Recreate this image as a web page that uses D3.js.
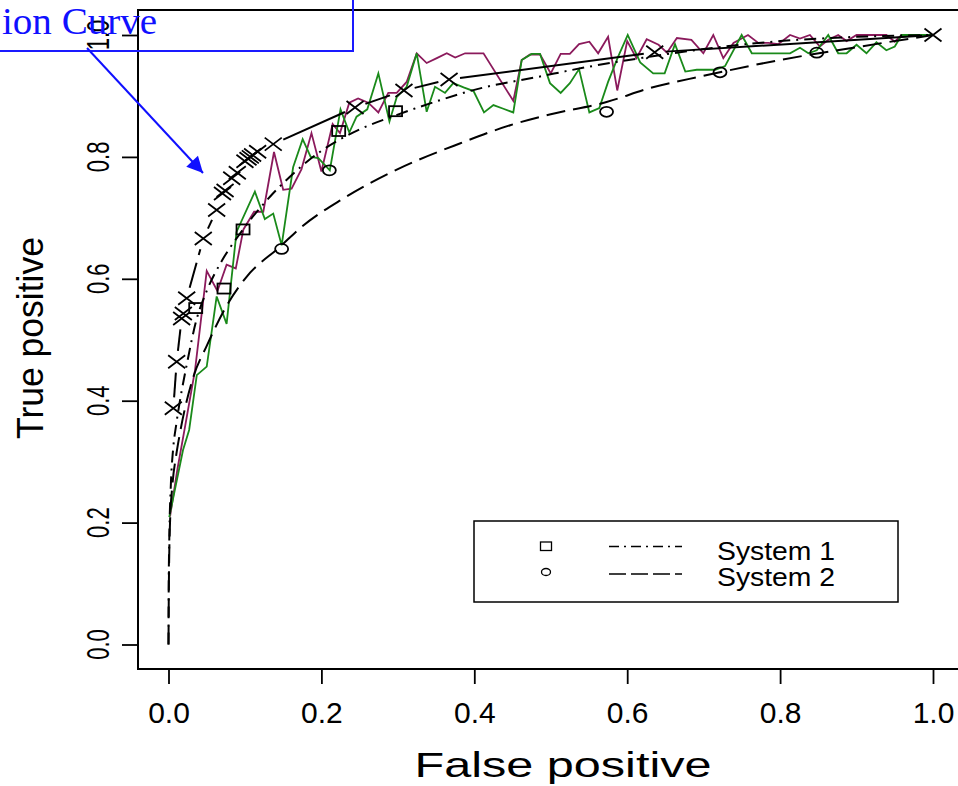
<!DOCTYPE html>
<html>
<head>
<meta charset="utf-8">
<script src="https://d3js.org/d3.v7.min.js"></script>
<style>
  body { margin: 0; background: #fff; }
  svg { display: block; }
  text { font-family: "Liberation Sans", Arial, sans-serif; }
</style>
</head>
<body>
<div id="roc_plot"></div>
<script>
// tick values
var xTicks = [0.0, 0.2, 0.4, 0.6, 0.8, 1.0];
var yTicks = [0.0, 0.2, 0.4, 0.6, 0.8, 1.0];

// fitted curve, system 1 (dot-dash)
var sys1Curve = [[0,0],[0.0003,0.1],[0.001,0.17],[0.003,0.26],[0.006,0.32],[0.01,0.36],[0.015,0.4],
  [0.024,0.46],[0.036,0.53],[0.05,0.58],[0.07,0.63],[0.094,0.675],[0.133,0.735],[0.15,0.757],
  [0.2,0.81],[0.25,0.845],[0.297,0.868],[0.355,0.893],[0.4,0.91],[0.486,0.932],[0.55,0.948],
  [0.617,0.962],[0.7,0.977],[0.8,0.99],[0.9,0.997],[1,1]];
// fitted curve, system 2 (long dash)
var sys2Curve = [[0,0],[0.0005,0.1],[0.002,0.2],[0.005,0.26],[0.01,0.31],[0.015,0.347],[0.0325,0.439],
  [0.05,0.49],[0.078,0.56],[0.1,0.6],[0.148,0.655],[0.172,0.683],[0.229,0.732],[0.3,0.78],
  [0.381,0.822],[0.447,0.852],[0.5,0.87],[0.573,0.89],[0.63,0.913],[0.7,0.933],[0.8,0.959],
  [0.9,0.98],[1,1]];

// operating points
var sys1Points = [[0.0356,0.552],[0.0726,0.584],[0.0975,0.681],[0.2226,0.8425],[0.297,0.875]];
var sys2Points = [[0.148,0.649],[0.2104,0.778],[0.573,0.874],[0.7214,0.9388],[0.848,0.971]];

// points marked with crosses
var crossPoints = [[0.0063,0.3875],[0.0107,0.464],[0.0172,0.535],[0.0194,0.543],[0.0238,0.568],
  [0.0455,0.666],[0.063,0.713],[0.0706,0.74],[0.074,0.745],[0.0827,0.765],[0.09,0.774],
  [0.1,0.793],[0.104,0.797],[0.107,0.8],[0.11,0.803],[0.1166,0.8085],[0.137,0.821],
  [0.244,0.881],[0.308,0.909],[0.367,0.927],[0.636,0.9716],[1,1]];
// segments starting at these fpr values are drawn solid
var crossSolidFrom = [0.137, 0.367, 0.636];

// empirical curves
var maroonCurve = [[0.002,0.21],[0.012,0.29],[0.022,0.36],[0.0347,0.45],[0.05,0.613],[0.064,0.58],
  [0.076,0.623],[0.088,0.617],[0.098,0.681],[0.112,0.71],[0.124,0.71],[0.138,0.808],[0.15,0.746],
  [0.161,0.748],[0.174,0.78],[0.187,0.839],[0.2,0.776],[0.2147,0.854],[0.2243,0.839],[0.2365,0.889],
  [0.248,0.896],[0.2613,0.889],[0.2745,0.873],[0.2875,0.905],[0.2985,0.905],[0.3115,0.923],
  [0.3247,0.97],[0.3377,0.954],[0.351,0.962],[0.364,0.97],[0.375,0.963],[0.388,0.97],[0.4,0.97],
  [0.412,0.97],[0.451,0.892],[0.462,0.959],[0.473,0.968],[0.486,0.968],[0.5,0.937],[0.513,0.969],
  [0.525,0.969],[0.537,0.985],[0.5505,0.989],[0.562,0.97],[0.575,0.997],[0.587,0.909],[0.6,0.99],
  [0.612,0.962],[0.6255,0.993],[0.641,0.984],[0.652,0.971],[0.665,0.995],[0.684,0.992],[0.6996,0.97],
  [0.7126,1.0],[0.7257,0.962],[0.739,0.987],[0.758,1.0],[0.7715,0.987],[0.7846,0.987],[0.7977,0.985],
  [0.813,1.0],[0.826,0.994],[0.839,1.0],[0.852,0.981],[0.863,0.992],[0.876,1.0],[0.887,0.99],
  [0.9,1.0],[0.939,1.0],[0.95,0.989],[0.959,1.0],[1,1]];
var greenCurve = [[0.001,0.209],[0.019,0.319],[0.027,0.352],[0.037,0.442],[0.05,0.456],[0.063,0.571],
  [0.076,0.526],[0.089,0.677],[0.113,0.743],[0.126,0.698],[0.137,0.707],[0.148,0.655],[0.163,0.783],
  [0.1755,0.829],[0.186,0.8],[0.196,0.798],[0.211,0.778],[0.225,0.878],[0.2365,0.84],[0.246,0.866],
  [0.26,0.878],[0.2745,0.937],[0.289,0.858],[0.2985,0.898],[0.3115,0.915],[0.3247,0.97],
  [0.3377,0.874],[0.3486,0.915],[0.3617,0.905],[0.3725,0.921],[0.386,0.914],[0.399,0.908],
  [0.4127,0.873],[0.425,0.885],[0.438,0.879],[0.451,0.873],[0.462,0.959],[0.475,0.969],[0.486,0.969],
  [0.499,0.921],[0.513,0.905],[0.525,0.921],[0.537,0.944],[0.5505,0.873],[0.5635,0.88],[0.575,0.923],
  [0.588,0.964],[0.6007,1.0],[0.617,0.955],[0.634,0.937],[0.649,0.937],[0.6625,0.985],[0.676,0.94],
  [0.691,0.943],[0.715,0.943],[0.728,0.949],[0.7497,1.0],[0.763,0.97],[0.813,0.97],[0.826,0.979],
  [0.837,0.97],[0.848,0.975],[0.863,1.0],[0.876,0.97],[0.887,0.97],[0.9,0.984],[0.913,0.97],
  [0.926,0.988],[0.939,0.975],[0.95,0.981],[0.959,1.0],[0.979,1.0],[1,1]];

var legendLabels = ["System 1", "System 2"];
var titleText = "ion Curve";

var width = 958, height = 786;
var box = {left: 138, top: 10, right: 962, bottom: 669};

var svg = d3.select("#roc_plot")
  .append("svg")
    .attr("width", width)
    .attr("height", height);

var x = d3.scaleLinear().domain([0, 1]).range([168.5, 933]);
var y = d3.scaleLinear().domain([0, 1]).range([644.5, 35]);

// plot frame
svg.append("rect")
  .attr("x", box.left).attr("y", box.top)
  .attr("width", box.right - box.left).attr("height", box.bottom - box.top)
  .attr("fill", "none").attr("stroke", "black").attr("stroke-width", 2);

// x axis
var xAxis = svg.append("g")
  .attr("transform", "translate(0," + box.bottom + ")")
  .call(d3.axisBottom(x).tickValues(xTicks).tickSize(15).tickPadding(18)
    .tickFormat(d3.format(".1f")));
xAxis.select(".domain").remove();
xAxis.selectAll("line").attr("stroke-width", 1.8);
xAxis.selectAll("text")
  .style("font-size", "30px")
  .style("font-family", "Liberation Sans, Arial, sans-serif")
  .attr("fill", "black");

// y axis (labels drawn separately, rotated)
var yAxis = svg.append("g")
  .attr("transform", "translate(" + box.left + ",0)")
  .call(d3.axisLeft(y).tickValues(yTicks).tickSize(16).tickFormat(""));
yAxis.select(".domain").remove();
yAxis.selectAll("line").attr("stroke-width", 1.8);

svg.append("g").selectAll("text")
  .data(yTicks)
  .enter()
  .append("text")
    .attr("transform", function(d) { return "translate(109," + y(d) + ") scale(1.4,1) rotate(-90)"; })
    .attr("text-anchor", "middle")
    .style("font-size", "22px")
    .text(function(d) { return d3.format(".1f")(d); });

// axis titles
svg.append("text")
  .attr("x", 563).attr("y", 777)
  .attr("text-anchor", "middle")
  .attr("textLength", 297).attr("lengthAdjust", "spacingAndGlyphs")
  .style("font-size", "35px")
  .text("False positive");

svg.append("text")
  .attr("transform", "translate(43,338) rotate(-90)")
  .attr("text-anchor", "middle")
  .attr("textLength", 202).attr("lengthAdjust", "spacingAndGlyphs")
  .style("font-size", "36px")
  .text("True positive");

var line = d3.line()
  .x(function(d) { return x(d[0]); })
  .y(function(d) { return y(d[1]); });

// empirical curves
svg.append("path").datum(maroonCurve)
  .attr("fill", "none").attr("stroke", "#8b1a5c").attr("stroke-width", 1.8)
  .attr("d", line);
svg.append("path").datum(greenCurve)
  .attr("fill", "none").attr("stroke", "#1a8a1a").attr("stroke-width", 1.8)
  .attr("d", line);

// fitted curves
var smooth = d3.line()
  .x(function(d) { return x(d[0]); })
  .y(function(d) { return y(d[1]); })
  .curve(d3.curveMonotoneX);
svg.append("path").datum(sys1Curve)
  .attr("fill", "none").attr("stroke", "black").attr("stroke-width", 2)
  .attr("stroke-dasharray", "12,6,2,6")
  .attr("d", smooth);
svg.append("path").datum(sys2Curve)
  .attr("fill", "none").attr("stroke", "black").attr("stroke-width", 2)
  .attr("stroke-dasharray", "19,8")
  .attr("d", smooth);

// line through the crosses, with gaps around each point
var gap = 11;
for (var i = 0; i < crossPoints.length - 1; i++) {
  var x1 = x(crossPoints[i][0]), y1 = y(crossPoints[i][1]);
  var x2 = x(crossPoints[i+1][0]), y2 = y(crossPoints[i+1][1]);
  var len = Math.sqrt((x2-x1)*(x2-x1) + (y2-y1)*(y2-y1));
  if (len <= 2*gap) continue;
  var ux = (x2-x1)/len, uy = (y2-y1)/len;
  var solid = crossSolidFrom.indexOf(crossPoints[i][0]) >= 0;
  svg.append("line")
    .attr("x1", x1 + ux*gap).attr("y1", y1 + uy*gap)
    .attr("x2", x2 - ux*gap).attr("y2", y2 - uy*gap)
    .attr("stroke", "black").attr("stroke-width", 2)
    .attr("stroke-dasharray", solid ? null : "26,8");
}

// cross markers
svg.append("g").selectAll("path")
  .data(crossPoints)
  .enter()
  .append("path")
    .attr("transform", function(d) { return "translate(" + x(d[0]) + "," + y(d[1]) + ")"; })
    .attr("d", "M-8.5,-6.5L8.5,6.5M-8.5,6.5L8.5,-6.5")
    .attr("stroke", "black").attr("stroke-width", 1.8);

// squares and circles
svg.append("g").selectAll("rect")
  .data(sys1Points)
  .enter()
  .append("rect")
    .attr("x", function(d) { return x(d[0]) - 6.5; })
    .attr("y", function(d) { return y(d[1]) - 5; })
    .attr("width", 13).attr("height", 10)
    .attr("fill", "none").attr("stroke", "black").attr("stroke-width", 1.8);
svg.append("g").selectAll("ellipse")
  .data(sys2Points)
  .enter()
  .append("ellipse")
    .attr("cx", function(d) { return x(d[0]); })
    .attr("cy", function(d) { return y(d[1]); })
    .attr("rx", 6.5).attr("ry", 5)
    .attr("fill", "none").attr("stroke", "black").attr("stroke-width", 1.8);

// legend
var legend = svg.append("g");
legend.append("rect")
  .attr("x", 474).attr("y", 521).attr("width", 424).attr("height", 81)
  .attr("fill", "white").attr("stroke", "black").attr("stroke-width", 1.5);
legend.append("rect")
  .attr("x", 540.5).attr("y", 542).attr("width", 11).attr("height", 8.5)
  .attr("fill", "none").attr("stroke", "black").attr("stroke-width", 1.3);
legend.append("ellipse")
  .attr("cx", 546).attr("cy", 572).attr("rx", 4.5).attr("ry", 3.5)
  .attr("fill", "none").attr("stroke", "black").attr("stroke-width", 1.3);
legend.append("line")
  .attr("x1", 609).attr("x2", 682).attr("y1", 546.5).attr("y2", 546.5)
  .attr("stroke", "black").attr("stroke-width", 1.5).attr("stroke-dasharray", "10,5,2,5");
legend.append("line")
  .attr("x1", 609).attr("x2", 682).attr("y1", 574).attr("y2", 574)
  .attr("stroke", "black").attr("stroke-width", 1.5).attr("stroke-dasharray", "17,5");
legend.selectAll("text.lab")
  .data(legendLabels)
  .enter()
  .append("text")
    .attr("class", "lab")
    .attr("x", 717)
    .attr("y", function(d, i) { return 560 + i * 26; })
    .attr("textLength", 118).attr("lengthAdjust", "spacingAndGlyphs")
    .style("font-size", "25px")
    .text(function(d) { return d; });

// blue annotation: title box and arrow
var defs = svg.append("defs");
defs.append("marker")
  .attr("id", "arrowhead")
  .attr("viewBox", "0 0 10 10")
  .attr("refX", 10).attr("refY", 5)
  .attr("markerUnits", "userSpaceOnUse")
  .attr("markerWidth", 22).attr("markerHeight", 16)
  .attr("orient", "auto")
  .append("path")
    .attr("d", "M0,0L10,5L0,10z")
    .attr("fill", "#1010ff");

svg.append("rect")
  .attr("x", -20).attr("y", -20).attr("width", 373).attr("height", 71)
  .attr("fill", "none").attr("stroke", "#1a1aff").attr("stroke-width", 2);
svg.append("text")
  .attr("x", 2).attr("y", 34)
  .attr("textLength", 155).attr("lengthAdjust", "spacingAndGlyphs")
  .style("font-family", "Liberation Serif, Times New Roman, serif")
  .style("font-size", "37px")
  .attr("fill", "#1010ff")
  .text(titleText);
svg.append("line")
  .attr("x1", 87).attr("y1", 48).attr("x2", 203).attr("y2", 173)
  .attr("stroke", "#1010ff").attr("stroke-width", 2)
  .attr("marker-end", "url(#arrowhead)");
</script>
</body>
</html>
